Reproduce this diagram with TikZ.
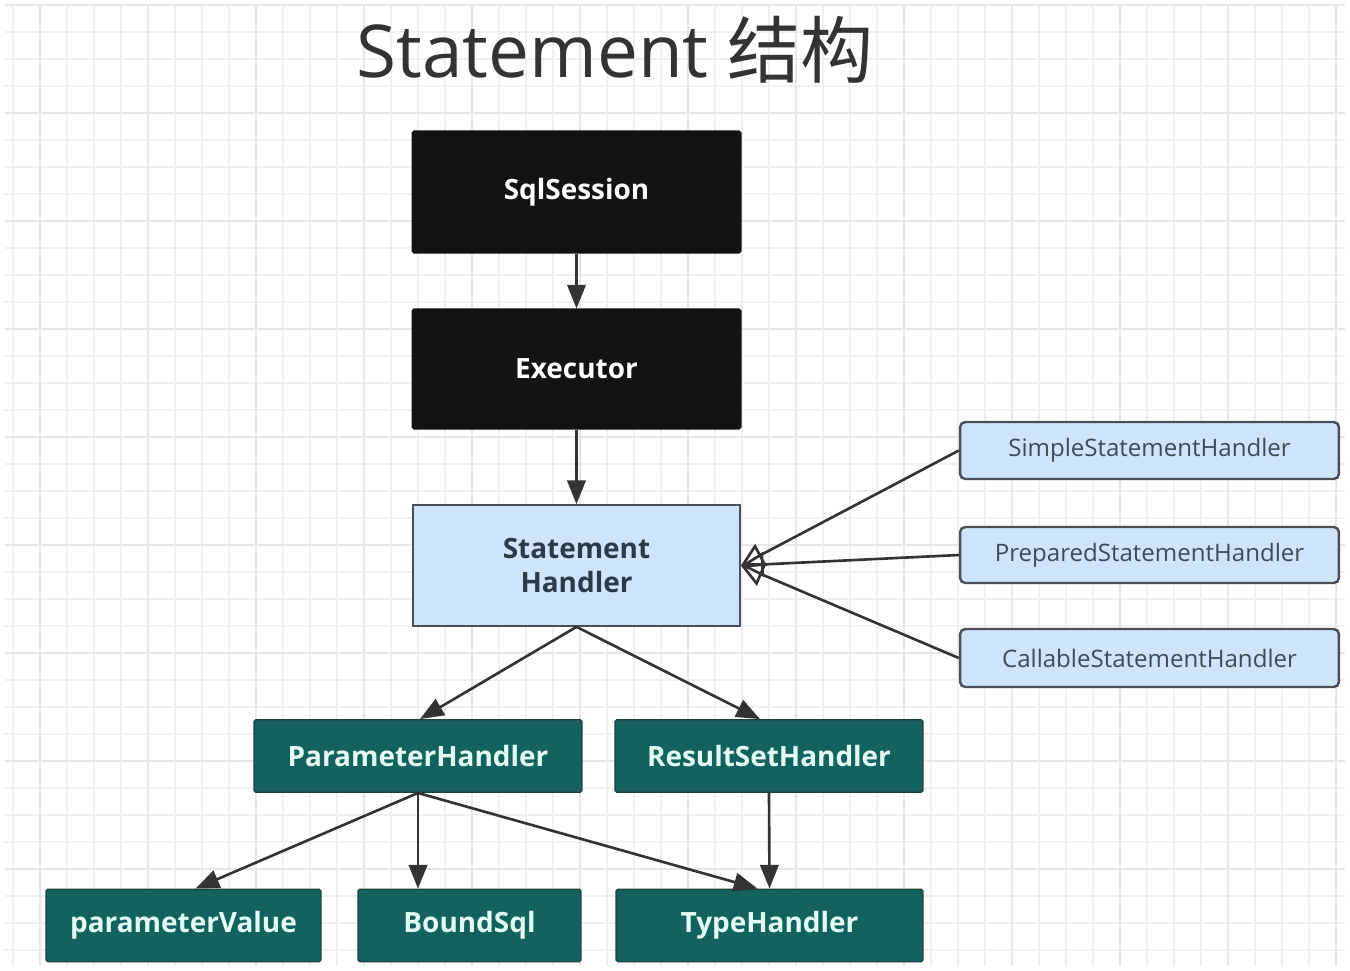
\documentclass[tikz,border=0pt]{standalone}
\usepackage{fontspec}
\setmainfont{Open Sans}
\newfontfamily\cjk{Noto Sans CJK SC}
\usetikzlibrary{arrows.meta,calc}
\definecolor{gridminor}{HTML}{F0F0F0}
\definecolor{gridmajor}{HTML}{E6E6E6}
\definecolor{blackbox}{HTML}{131313}
\definecolor{lightblue}{HTML}{CFE4FA}
\definecolor{blueborder}{HTML}{4A4F56}
\definecolor{bluetext}{HTML}{3E4A58}
\definecolor{shtext}{HTML}{2C3A48}
\definecolor{teal}{HTML}{13625E}
\definecolor{tealborder}{HTML}{1F3F3D}
\definecolor{tealtext}{HTML}{E2FBF7}
\definecolor{arrowcol}{HTML}{333333}
\definecolor{titlecol}{HTML}{333333}
\tikzset{
  darkbox/.style={draw=blackbox, fill=blackbox, line width=0.6pt, inner sep=0pt,
    text=white, font=\fontsize{15.9pt}{20pt}\selectfont\bfseries, rounded corners=1pt},
  shbox/.style={draw=blueborder, fill=lightblue, line width=1pt, inner sep=0pt,
    text=shtext, align=center, font=\fontsize{15.9pt}{19.9pt}\selectfont\bfseries},
  subbox/.style={draw=blueborder, fill=lightblue, line width=1.4pt, inner sep=0pt,
    rounded corners=3pt, text=bluetext, font=\fontsize{13.7pt}{16pt}\selectfont,
    minimum width=7.58cm},
  tealbox/.style={draw=tealborder, fill=teal, line width=0.8pt, inner sep=0pt,
    text=tealtext, font=\fontsize{15.9pt}{20pt}\selectfont\bfseries, rounded corners=1pt,
    minimum height=1.45cm},
  conn/.style={draw=arrowcol, line width=1.5pt, -{Triangle[length=13.5pt,width=10.5pt]}},
  inherit/.style={draw=arrowcol, line width=1.5pt, -{Triangle[open,length=13pt,width=14pt,line width=1.5pt]}}
}
\begin{document}
\begin{tikzpicture}[x=0.02cm,y=-0.02cm]
\useasboundingbox (0,0) rectangle (1350,971);
\fill[white] (0,0) rectangle (1350,971);
% grid
\foreach \x in {13,40,...,1345} {\draw[gridminor, line width=0.6pt] (\x,5) -- (\x,966);}
\foreach \y in {5,32,...,966} {\draw[gridminor, line width=0.6pt] (5,\y) -- (1345,\y);}
\foreach \x in {40,148,...,1345} {\draw[gridmajor, line width=0.8pt] (\x,5) -- (\x,966);}
\foreach \y in {5,113,...,966} {\draw[gridmajor, line width=0.8pt] (5,\y) -- (1345,\y);}

% title
\node[text=titlecol, font=\fontsize{41.5pt}{48pt}\selectfont, inner sep=0pt] (title) at (615,50) {Statement {\cjk 结构}};

% main chain
\node[darkbox, minimum width=6.58cm, minimum height=2.44cm] (sql) at (576.5,192) {SqlSession};
\node[darkbox, minimum width=6.58cm, minimum height=2.40cm] (exec) at (576.5,369) {Executor};
\node[shbox, minimum width=6.54cm, minimum height=2.42cm] (sh) at (576.5,565.5) {Statement\\Handler};

% implementations
\node[subbox, minimum height=1.14cm] (simple) at (1149.5,450.5) {SimpleStatementHandler};
\node[subbox, minimum height=1.12cm] (prep) at (1149.5,555) {PreparedStatementHandler};
\node[subbox, minimum height=1.16cm] (call) at (1149.5,658) {CallableStatementHandler};

% teal boxes
\node[tealbox, minimum width=6.56cm] (ph) at (418,756) {ParameterHandler};
\node[tealbox, minimum width=6.16cm] (rsh) at (769,756) {ResultSetHandler};
\node[tealbox, minimum width=5.5cm] (pv) at (183.5,925.5) {parameterValue};
\node[tealbox, minimum width=4.46cm] (bs) at (469.5,925.5) {BoundSql};
\node[tealbox, minimum width=6.14cm] (th) at (769.5,925.5) {TypeHandler};

% connectors
\draw[conn] (sql.south) -- (exec.north);
\draw[conn] (exec.south) -- (sh.north);
\draw[inherit] (simple.west) -- (sh.east);
\draw[inherit] (prep.west) -- (sh.east);
\draw[inherit] (call.west) -- (sh.east);
\draw[conn] (sh.south) -- ($(ph.north)+(2,0)$);
\draw[conn] (sh.south) -- ($(rsh.north)+(-9,0)$);
\draw[conn] (ph.south) -- ($(pv.north)+(12,0)$);
\draw[conn] (ph.south) -- (ph.south |- bs.north);
\draw[conn] (ph.south) -- ($(th.north)+(-12,0)$);
\draw[conn] (rsh.south) -- (th.north);
\end{tikzpicture}
\end{document}
